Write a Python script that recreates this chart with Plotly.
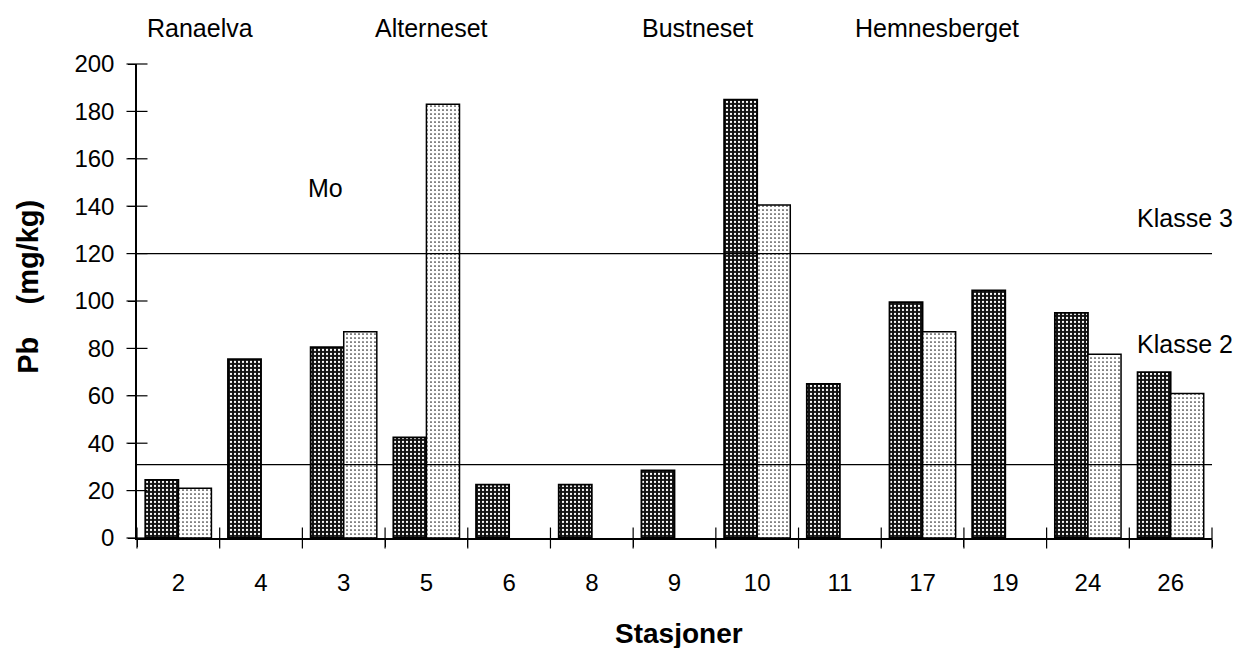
import plotly.graph_objects as go

# ---- data ----
stations = ["2", "4", "3", "5", "6", "8", "9", "10", "11", "17", "19", "24", "26"]
pb_dark = [24.5, 75.5, 80.5, 42.5, 22.5, 22.5, 28.5, 185, 65, 99.5, 104.5, 95, 70]
pb_light = [21, None, 87, 183, None, None, None, 140.5, None, 87, None, 77.5, 61]
klasse_values = [120, 31]
klasse_labels = ["Klasse 3", "Klasse 2"]
klasse_label_y = [135, 82]
area_labels = ["Ranaelva", "Alterneset", "Bustneset", "Hemnesberget"]
area_label_x = [0.059, 0.274, 0.521, 0.744]
y_ticks = list(range(0, 201, 20))

FONT = "Liberation Sans, Arial, Helvetica, sans-serif"

fig = go.Figure()

fig.add_trace(go.Bar(
    x=stations, y=pb_dark, name="dark",
    marker=dict(
        color="#1a1a1a",
        line=dict(color="black", width=1.8),
        pattern=dict(shape=".", fgcolor="white", bgcolor="#111111",
                     size=4, solidity=0.25, fillmode="replace"),
    ),
))
fig.add_trace(go.Bar(
    x=stations, y=pb_light, name="light",
    marker=dict(
        color="white",
        line=dict(color="black", width=1.5),
        pattern=dict(shape=".", fgcolor="#222222", bgcolor="white",
                     size=4, solidity=0.14, fillmode="replace"),
    ),
))

n = len(stations)
for kv in klasse_values:
    fig.add_trace(go.Scatter(
        x=[-0.5, n - 0.5], y=[kv, kv], xaxis="x2", yaxis="y2",
        mode="lines", line=dict(color="black", width=1.2),
        hoverinfo="skip", showlegend=False,
    ))

# crossing tick marks (centered on the axes)
boundaries = [i - 0.5 for i in range(n + 1)]
fig.add_trace(go.Scatter(
    x=boundaries, y=[0] * len(boundaries), xaxis="x2", yaxis="y2",
    mode="markers", cliponaxis=False, hoverinfo="skip", showlegend=False,
    marker=dict(symbol="line-ns", size=15, color="black",
                line=dict(color="black", width=1.2)),
))
fig.add_trace(go.Scatter(
    x=[-0.5] * len(y_ticks), y=y_ticks, xaxis="x2", yaxis="y2",
    mode="markers", cliponaxis=False, hoverinfo="skip", showlegend=False,
    marker=dict(symbol="line-ew", size=15, color="black",
                line=dict(color="black", width=1.2)),
))

fig.update_layout(
    width=1236, height=640,
    margin=dict(l=129, r=32, t=56, b=110),
    paper_bgcolor="white", plot_bgcolor="white",
    showlegend=False,
    barmode="group", bargap=0.2, bargroupgap=0,
    font=dict(family=FONT, color="black"),
    xaxis=dict(
        type="category", categoryorder="array", categoryarray=stations,
        range=[-0.5, n - 0.5],
        tickson="boundaries", ticks="outside", ticklen=7, tickwidth=1.2,
        tickcolor="black", showline=True, linecolor="black", linewidth=1.5,
        showgrid=False, zeroline=False,
        tickfont=dict(size=24, family=FONT), ticklabelstandoff=22,
    ),
    xaxis2=dict(
        overlaying="x", anchor="y2", side="bottom",
        range=[-0.5, n - 0.5], visible=False,
    ),
    yaxis=dict(
        range=[0, 200], tickmode="array", tickvals=y_ticks,
        ticks="outside", ticklen=7, tickwidth=1.2, tickcolor="black",
        showline=True, linecolor="black", linewidth=1.5,
        showgrid=False, zeroline=False,
        tickfont=dict(size=24, family=FONT), ticklabelstandoff=9,
    ),
    yaxis2=dict(
        overlaying="y", anchor="x2", side="left",
        range=[0, 200], visible=False,
    ),
)

annotations = []
for lab, xp in zip(area_labels, area_label_x):
    annotations.append(dict(text=lab, x=xp, y=1.076, xref="paper", yref="paper",
                            showarrow=False, xanchor="center", yanchor="middle",
                            font=dict(size=25, family=FONT)))
annotations.append(dict(text="Mo", x=0.175, y=147.5, xref="paper", yref="y",
                        showarrow=False, xanchor="center", yanchor="middle",
                        font=dict(size=25, family=FONT)))
for lab, ly in zip(klasse_labels, klasse_label_y):
    annotations.append(dict(text=lab, x=0.975, y=ly, xref="paper", yref="y",
                            showarrow=False, xanchor="center", yanchor="middle",
                            font=dict(size=25, family=FONT)))
annotations.append(dict(text="<b>Pb\u00a0\u00a0\u00a0\u00a0(mg/kg)</b>", x=-0.1014, y=0.53,
                        xref="paper", yref="paper", textangle=-90,
                        showarrow=False, xanchor="center", yanchor="middle",
                        font=dict(size=29, family=FONT)))
annotations.append(dict(text="<b>Stasjoner</b>", x=0.504, y=-0.2025,
                        xref="paper", yref="paper",
                        showarrow=False, xanchor="center", yanchor="middle",
                        font=dict(size=28, family=FONT)))
fig.update_layout(annotations=annotations)

fig.write_html("out.html")
